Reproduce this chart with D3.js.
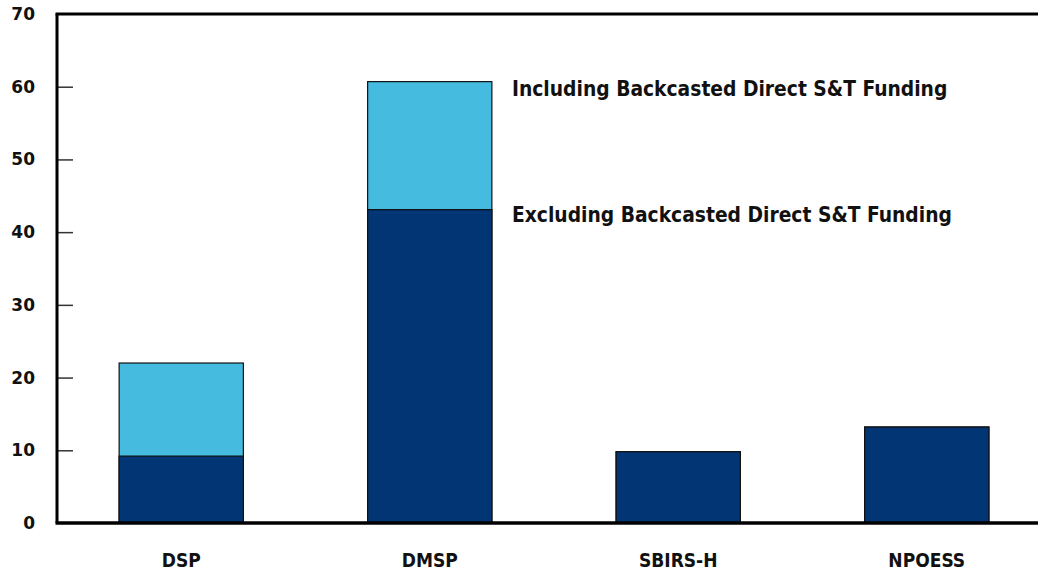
<!DOCTYPE html>
<html>
<head>
<meta charset="utf-8">
<script src="https://cdn.jsdelivr.net/npm/d3@7"></script>
<style>
  body { margin: 0; background: #fff; }
  svg { display: block; }
</style>
</head>
<body>
<svg class="chart"></svg>
<script>
var width = 1038,
    height = 571;

// data
var categories = ["DSP", "DMSP", "SBIRS-H", "NPOESS"];
var excluding = [9.2, 43.1, 9.8, 13.2];
var including = [22.0, 60.7, 9.8, 13.2];
var yTicks = [0, 10, 20, 30, 40, 50, 60, 70];
var labels = ["Including Backcasted Direct S&T Funding", "Excluding Backcasted Direct S&T Funding"];

var marginLeft = 57, plotTop = 14, plotBottom = 523;

var svg = d3.select(".chart")
    .attr("width", width)
    .attr("height", height);

var x = d3.scaleBand()
    .domain(categories)
    .range([marginLeft, marginLeft + 4 * 248.5])
    .paddingInner(0.5)
    .paddingOuter(0.25);

var y = d3.scaleLinear()
    .domain([0, 70])
    .range([plotBottom, plotTop]);

// bars: lighter (including) behind, darker (excluding) on top
svg.append("g").selectAll("rect")
    .data(categories)
  .enter().append("rect")
    .attr("x", function(d) { return x(d); })
    .attr("y", function(d, i) { return y(including[i]); })
    .attr("width", x.bandwidth())
    .attr("height", function(d, i) { return y(0) - y(including[i]); })
    .attr("fill", "#45bbe0")
    .attr("stroke", "#111")
    .attr("stroke-width", 1.2);

svg.append("g").selectAll("rect")
    .data(categories)
  .enter().append("rect")
    .attr("x", function(d) { return x(d); })
    .attr("y", function(d, i) { return y(excluding[i]); })
    .attr("width", x.bandwidth())
    .attr("height", function(d, i) { return y(0) - y(excluding[i]); })
    .attr("fill", "#023574")
    .attr("stroke", "#111")
    .attr("stroke-width", 1.2);

// y axis
var yAxis = svg.append("g")
    .attr("transform", "translate(" + marginLeft + ",0)")
    .call(d3.axisRight(y).tickValues(yTicks).tickSize(16).tickFormat(""));
yAxis.select(".domain").remove();
yAxis.selectAll(".tick line")
    .attr("stroke", "#333")
    .attr("stroke-width", 1.5)
    .filter(function(d) { return d === 0 || d === 70; }).remove();

svg.append("g").selectAll("text")
    .data(yTicks)
  .enter().append("text")
    .attr("x", 35)
    .attr("y", function(d) { return y(d); })
    .attr("dy", "0.35em")
    .attr("text-anchor", "end")
    .style("font-family", "DejaVu Sans")
    .style("font-weight", "bold")
    .style("font-size", "17px")
    .attr("fill", "#111")
    .text(function(d) { return d; });

svg.append("line")
    .attr("x1", marginLeft).attr("x2", marginLeft)
    .attr("y1", plotTop).attr("y2", plotBottom)
    .attr("stroke", "#000")
    .attr("stroke-width", 3);

svg.append("line")
    .attr("x1", marginLeft - 1.5).attr("x2", width)
    .attr("y1", plotTop).attr("y2", plotTop)
    .attr("stroke", "#000")
    .attr("stroke-width", 3);

svg.append("line")
    .attr("x1", marginLeft - 1.5).attr("x2", width)
    .attr("y1", plotBottom).attr("y2", plotBottom)
    .attr("stroke", "#000")
    .attr("stroke-width", 3.5);

// category labels
svg.append("g").selectAll("text")
    .data(categories)
  .enter().append("text")
    .attr("x", function(d) { return x(d) + x.bandwidth() / 2; })
    .attr("y", 567)
    .attr("text-anchor", "middle")
    .style("font-family", "DejaVu Sans Condensed")
    .style("font-weight", "bold")
    .style("font-size", "19px")
    .attr("fill", "#111")
    .text(function(d) { return d; });

// annotations next to DMSP
svg.append("text")
    .attr("x", 512)
    .attr("y", 96)
    .style("font-family", "DejaVu Sans Condensed")
    .style("font-weight", "bold")
    .style("font-size", "20.8px")
    .attr("fill", "#111")
    .text(labels[0]);

svg.append("text")
    .attr("x", 512)
    .attr("y", 222)
    .style("font-family", "DejaVu Sans Condensed")
    .style("font-weight", "bold")
    .style("font-size", "20.8px")
    .attr("fill", "#111")
    .text(labels[1]);
</script>
</body>
</html>
